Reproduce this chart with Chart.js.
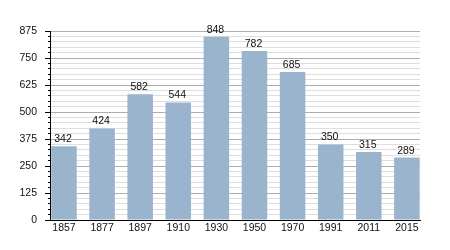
<!DOCTYPE html>
<html>
<head>
<meta charset="utf-8">
<script src="https://cdn.jsdelivr.net/npm/chart.js@4"></script>
<style>
  html, body { margin: 0; padding: 0; background: #fff; }
  #wrap { width: 450px; height: 250px; }
</style>
</head>
<body>
<div id="wrap"><canvas id="popChart" width="450" height="250"></canvas></div>
<script>
const years = ['1857', '1877', '1897', '1910', '1930', '1950', '1970', '1991', '2011', '2015'];
const population = [342, 424, 582, 544, 848, 782, 685, 350, 315, 289];
const yTicks = [0, 125, 250, 375, 500, 625, 750, 875];

const barColor = '#9ab4ce';
const majorGrid = '#adadad';
const minorGrid = '#dedede';
const textColor = '#111';
const fontFamily = "'Liberation Sans', Arial, sans-serif";

// value labels above bars
const barLabels = {
    id: 'barLabels',
    afterDatasetsDraw(chart) {
        const ctx = chart.ctx;
        const meta = chart.getDatasetMeta(0);
        ctx.save();
        ctx.font = '10.5px ' + fontFamily;
        ctx.fillStyle = textColor;
        ctx.textAlign = 'center';
        ctx.textBaseline = 'alphabetic';
        meta.data.forEach((bar, i) => {
            ctx.fillText(String(population[i]), bar.x - 1, bar.y - 4);
        });
        ctx.restore();
    }
};

const isMajor = v => yTicks.includes(v);

const ctx = document.getElementById('popChart').getContext('2d');
const popChart = new Chart(ctx, {
    type: 'bar',
    data: {
        datasets: [{
            data: years.map((y, i) => ({ x: i, y: population[i] })),
            backgroundColor: barColor,
            borderWidth: 0,
            categoryPercentage: 1,
            barPercentage: 0.67
        }]
    },
    options: {
        responsive: false,
        animation: false,
        layout: { padding: { left: 0, right: 30, top: 31, bottom: 0 } },
        plugins: {
            legend: { display: false },
            tooltip: { enabled: false }
        },
        scales: {
            x: {
                type: 'linear',
                min: -0.367,
                max: 9.344,
                offset: false,
                grid: { display: false, drawTicks: false, offset: false },
                border: { display: true, color: '#000', width: 1 },
                afterBuildTicks(scale) {
                    scale.ticks = years.map((_, i) => ({ value: i }));
                },
                afterFit(scale) { scale.height = 30; },
                ticks: {
                    autoSkip: false,
                    maxRotation: 0,
                    padding: 2,
                    color: textColor,
                    font: { family: fontFamily, size: 10.5 },
                    callback: v => years[v] ?? ''
                }
            },
            y: {
                min: 0,
                max: 875,
                afterFit(scale) { scale.width = 50; },
                border: { display: true, color: '#000', width: 1 },
                grid: {
                    color: c => isMajor(c.tick.value) ? majorGrid : minorGrid,
                    tickColor: '#000',
                    tickLength: 5,
                    tickBorderDash: c => isMajor(c.tick.value) ? [] : [2, 100],
                    tickBorderDashOffset: c => isMajor(c.tick.value) ? 0 : -3
                },
                ticks: {
                    stepSize: 25,
                    autoSkip: false,
                    padding: 8,
                    color: textColor,
                    font: { family: fontFamily, size: 10.5 },
                    callback: v => isMajor(v) ? String(v) : ''
                }
            }
        }
    },
    plugins: [barLabels]
});
</script>
</body>
</html>
